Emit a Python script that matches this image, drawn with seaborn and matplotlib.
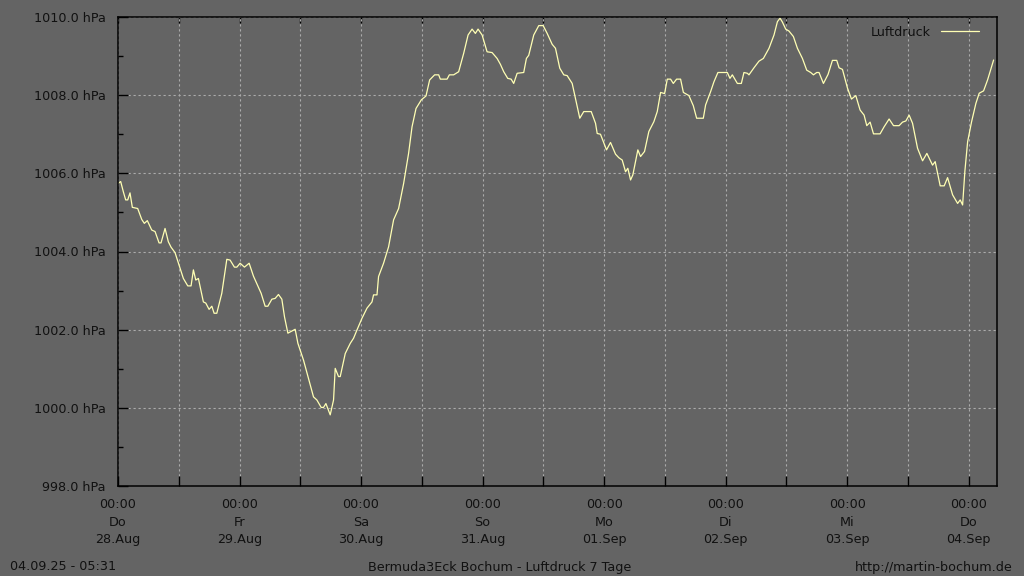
import matplotlib
matplotlib.use("Agg")
import matplotlib.pyplot as plt
import seaborn as sns
import pandas as pd
import numpy as np

# ---- data (hours since 28.08.2025 00:00, pressure in hPa) ----
hours = [
    0.0, 0.53, 1.05, 1.52, 1.92, 2.37, 2.83, 3.89, 4.69, 5.20, 5.79, 6.66, 7.32, 8.11, 8.50,
    9.29, 9.94, 10.48, 11.27, 12.26, 12.91, 13.78, 14.43, 14.89, 15.36, 15.88, 16.86, 17.34,
    17.99, 18.53, 18.98, 19.51, 20.50, 21.49, 22.14, 22.99, 23.47, 24.12, 24.97, 25.90, 26.75,
    28.27, 29.06, 29.60, 30.39, 31.04, 31.69, 32.36, 32.88, 33.55, 34.99, 35.53, 36.64, 37.62,
    38.61, 39.28, 40.13, 40.59, 41.06, 41.91, 42.57, 42.90, 43.55, 43.89, 44.88, 45.87, 46.52,
    47.19, 48.18, 49.17, 50.16, 50.47, 51.15, 51.46, 52.45, 53.44, 54.43, 55.42, 56.41, 57.39,
    58.07, 58.86, 59.91, 60.83, 61.55, 62.53, 63.33, 63.66, 64.99, 65.44, 66.29, 67.28, 68.27,
    69.14, 69.93, 70.58, 71.11, 71.91, 72.89, 73.88, 74.87, 75.52, 76.18, 76.97, 77.64, 78.15,
    78.83, 80.13, 80.66, 81.12, 82.11, 83.10, 83.97, 84.76, 85.75, 86.40, 87.25, 88.04, 88.71,
    89.70, 90.35, 91.20, 91.99, 93.46, 94.31, 94.64, 95.29, 96.48, 97.27, 98.26, 98.91, 99.58,
    100.24, 100.69, 101.23, 101.68, 102.67, 103.20, 103.99, 104.84, 105.83, 106.50, 107.16,
    107.95, 108.48, 109.13, 109.67, 110.32, 111.11, 111.66, 112.75, 113.62, 114.28, 115.60,
    116.05, 117.04, 117.69, 118.48, 120.34, 120.86, 121.33, 122.32, 123.11, 123.62, 124.30,
    124.61, 125.60, 126.59, 127.46, 128.57, 129.56, 130.23, 130.75, 131.22, 131.87, 132.52,
    133.39, 134.18, 135.17, 136.02, 136.81, 137.35, 138.00, 138.45, 139.32, 140.23, 141.10,
    141.95, 142.41, 143.08, 144.07, 144.86, 145.71, 146.56, 147.35, 147.88, 148.54, 149.21,
    150.51, 151.30, 152.29, 153.16, 154.27, 154.94, 155.60, 156.25, 156.92, 157.91, 158.90,
    159.75, 160.87, 161.39, 162.38, 163.17, 163.84, 164.83, 165.82, 166.33, 166.81, 167.26,
    167.80, 168.58, 169.43, 170.09, 170.95, 171.74, 172.93,
]
pressure = [
    1005.74, 1005.79, 1005.53, 1005.32, 1005.32, 1005.50, 1005.13, 1005.10, 1004.82, 1004.72,
    1004.79, 1004.55, 1004.51, 1004.22, 1004.22, 1004.59, 1004.25, 1004.11, 1003.97, 1003.57,
    1003.31, 1003.12, 1003.12, 1003.53, 1003.27, 1003.31, 1002.71, 1002.68, 1002.52, 1002.60,
    1002.42, 1002.42, 1002.93, 1003.80, 1003.78, 1003.60, 1003.60, 1003.70, 1003.60, 1003.70,
    1003.37, 1002.93, 1002.60, 1002.60, 1002.78, 1002.80, 1002.90, 1002.78, 1002.33, 1001.91,
    1002.01, 1001.65, 1001.22, 1000.75, 1000.28, 1000.20, 1000.01, 1000.01, 1000.11, 999.82,
    1000.20, 1001.01, 1000.80, 1000.80, 1001.39, 1001.65, 1001.78, 1001.99, 1002.29, 1002.55,
    1002.71, 1002.89, 1002.89, 1003.36, 1003.70, 1004.12, 1004.81, 1005.10, 1005.74, 1006.51,
    1007.19, 1007.66, 1007.88, 1007.98, 1008.39, 1008.52, 1008.52, 1008.41, 1008.41, 1008.52,
    1008.52, 1008.60, 1009.07, 1009.54, 1009.69, 1009.58, 1009.69, 1009.54, 1009.11, 1009.09,
    1008.94, 1008.79, 1008.60, 1008.43, 1008.41, 1008.30, 1008.56, 1008.58, 1008.94, 1009.02,
    1009.54, 1009.78, 1009.78, 1009.58, 1009.30, 1009.20, 1008.69, 1008.52, 1008.50, 1008.30,
    1007.92, 1007.41, 1007.58, 1007.58, 1007.28, 1007.02, 1007.00, 1006.60, 1006.79, 1006.49,
    1006.40, 1006.34, 1006.04, 1006.13, 1005.83, 1005.96, 1006.60, 1006.43, 1006.56, 1007.07,
    1007.32, 1007.58, 1008.07, 1008.04, 1008.41, 1008.41, 1008.30, 1008.41, 1008.41, 1008.07,
    1007.99, 1007.73, 1007.41, 1007.41, 1007.75, 1008.09, 1008.34, 1008.58, 1008.58, 1008.43,
    1008.52, 1008.30, 1008.30, 1008.58, 1008.56, 1008.52, 1008.70, 1008.87, 1008.94, 1009.20,
    1009.54, 1009.88, 1009.97, 1009.87, 1009.69, 1009.64, 1009.50, 1009.20, 1008.94, 1008.64,
    1008.58, 1008.52, 1008.58, 1008.58, 1008.30, 1008.53, 1008.89, 1008.89, 1008.70, 1008.66,
    1008.18, 1007.90, 1007.99, 1007.62, 1007.49, 1007.22, 1007.31, 1007.01, 1007.01, 1007.19,
    1007.39, 1007.22, 1007.22, 1007.31, 1007.34, 1007.49, 1007.28, 1006.64, 1006.32, 1006.51,
    1006.21, 1006.30, 1005.68, 1005.68, 1005.89, 1005.45, 1005.23, 1005.32, 1005.19, 1006.06,
    1006.81, 1007.32, 1007.79, 1008.05, 1008.11, 1008.39, 1008.90,
]
day_names = ["Do", "Fr", "Sa", "So", "Mo", "Di", "Mi", "Do"]
day_dates = ["28.Aug", "29.Aug", "30.Aug", "31.Aug", "01.Sep", "02.Sep", "03.Sep", "04.Sep"]
y_ticks = [998, 1000, 1002, 1004, 1006, 1008, 1010]

start = pd.Timestamp("2025-08-28 00:00")
end = pd.Timestamp("2025-09-04 05:36")
df = pd.DataFrame({
    "time": start + pd.to_timedelta(hours, unit="h"),
    "Luftdruck": pressure,
})

BG = "#646464"
TXT = "#111111"
FS = 9.2
sns.set_theme(style="ticks")
plt.rcParams["font.family"] = ["DejaVu Sans"]

fig = plt.figure(figsize=(10.24, 5.76), dpi=100, facecolor=BG)
ax = fig.add_axes([118 / 1024, 1 - 486 / 576, (997 - 118) / 1024, (486 - 17) / 576])
ax.set_facecolor(BG)

sns.lineplot(data=df, x="time", y="Luftdruck", ax=ax, color="#ffffb4",
             linewidth=0.9, label="Luftdruck")

ax.set_xlim(start, end)
ax.set_ylim(998, 1010)

# x ticks every 12 h, labels at midnight
x_major = [start + pd.Timedelta(days=i) for i in range(8)]
x_minor = [start + pd.Timedelta(hours=12 + 24 * i) for i in range(7)]
ax.set_xticks(x_major)
ax.set_xticklabels([f"00:00\n{d}\n{dt}" for d, dt in zip(day_names, day_dates)],
                   linespacing=1.42)
ax.set_xticks(x_minor, minor=True)
ax.set_yticks(y_ticks)
ax.set_yticklabels([f"{v:.1f} hPa" for v in y_ticks])
ax.set_yticks(np.arange(999, 1010, 2), minor=True)

ax.tick_params(axis="x", which="both", direction="in", length=7.5, width=1,
               color="black", labelsize=FS, labelcolor=TXT, pad=9,
               top=False)
ax.tick_params(axis="y", which="major", direction="in", length=7.5, width=1,
               color="black", labelsize=FS, labelcolor=TXT, pad=9, right=False)
ax.tick_params(axis="y", which="minor", direction="in", length=3.8, width=1,
               color="black", right=False)

# top ticks (shorter, no labels)
top = ax.secondary_xaxis("top")
top.set_xticks(x_major + x_minor)
top.tick_params(direction="in", length=4.3, width=1, color="black", labelsize=0)
top.set_xticklabels([])
top.spines["top"].set_visible(False)

ax.grid(True, which="major", axis="y", color="#acacac", linestyle=(0, (2, 2.5)),
        linewidth=0.8)
ax.grid(True, which="both", axis="x", color="#acacac", linestyle=(0, (2, 2.5)),
        linewidth=0.8)
for s in ax.spines.values():
    s.set_color("black")
    s.set_linewidth(1.1)

ax.set_xlabel("")
ax.set_ylabel("")

leg = ax.legend(loc="upper right", frameon=False, markerfirst=False,
                handlelength=3.0, handletextpad=0.8, fontsize=FS,
                borderaxespad=0.3, bbox_to_anchor=(0.99, 1.0))
for t in leg.get_texts():
    t.set_color(TXT)

fig.text(10 / 1024, 1 - 567 / 576, "04.09.25 - 05:31", fontsize=FS,
         color=TXT, ha="left", va="center")
fig.text(500 / 1024, 1 - 567 / 576, "Bermuda3Eck Bochum - Luftdruck 7 Tage",
         fontsize=FS, color=TXT, ha="center", va="center")
fig.text(1013 / 1024, 1 - 567 / 576, "http://martin-bochum.de", fontsize=FS,
         color=TXT, ha="right", va="center")

fig.savefig("out.png", dpi=100, facecolor=BG)
